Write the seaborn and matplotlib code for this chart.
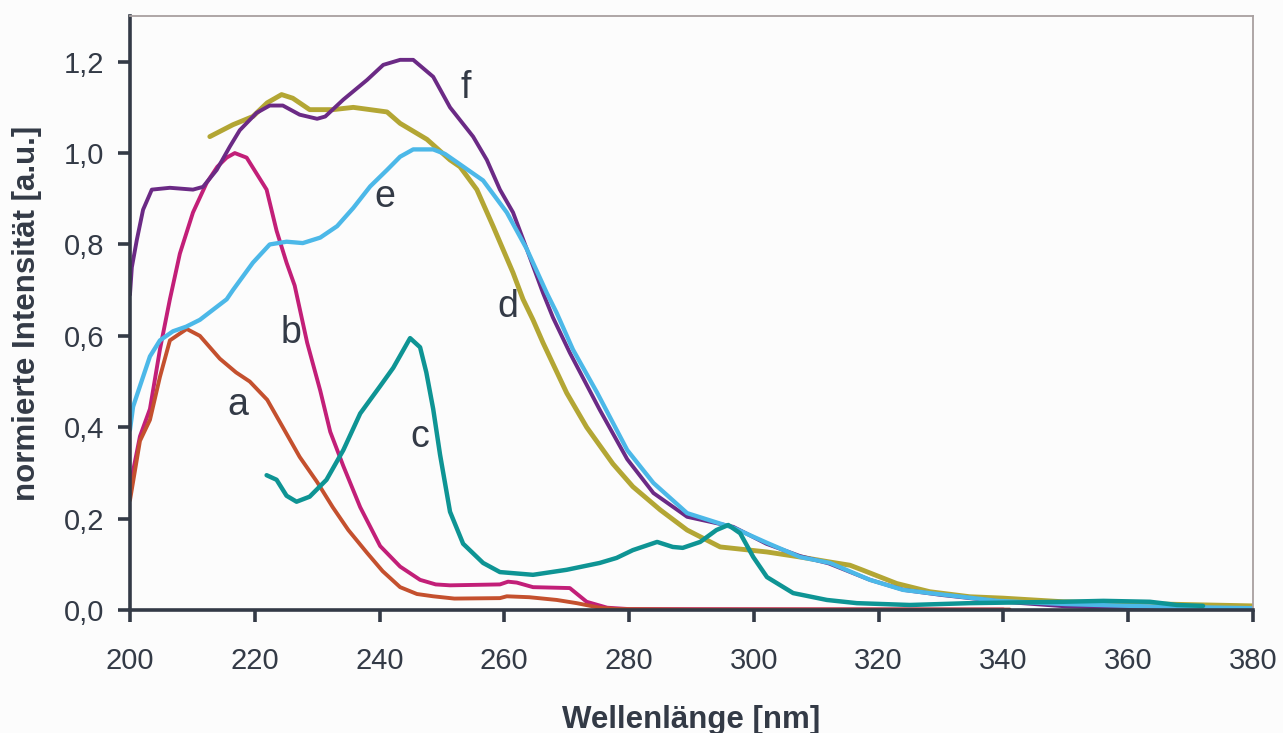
import matplotlib
matplotlib.use("Agg")
import matplotlib.pyplot as plt
import seaborn as sns
import pandas as pd

# Absorption spectra (normalised), wavelength in nm
a_x = [200, 201.6, 203.2, 204.8, 206.4, 208, 209.1, 211.2, 214.4, 217, 219.2, 222, 224.5, 227.2,
       230, 232.5, 235, 238, 240.5, 243.3, 246, 248.6, 252, 259.3, 260.4, 264, 268.4, 271.6,
       275.3, 278, 290, 341]
a_y = [0.24, 0.37, 0.416, 0.51, 0.59, 0.605, 0.615, 0.60, 0.55, 0.52, 0.50, 0.46, 0.40, 0.335,
       0.28, 0.225, 0.175, 0.125, 0.085, 0.05, 0.035, 0.03, 0.025, 0.026, 0.03, 0.028, 0.022, 0.015,
       0.005, 0.002, 0.001, 0.001]

b_x = [200, 201.6, 203.2, 204.8, 206.4, 208, 210.1, 212.3, 214, 215.5, 216.8, 218.7, 220.3, 221.9,
       223.5, 225.1, 226.4, 227.2, 228.4, 230.5, 232.1, 234.2, 236.9, 240.1, 243.3, 246.5, 249,
       251.3, 259.3, 260.6, 262, 264.6, 270.5, 273.2, 276.5, 280, 340]
b_y = [0.27, 0.38, 0.44, 0.57, 0.68, 0.78, 0.87, 0.935, 0.97, 0.99, 1.0, 0.99, 0.955, 0.92,
       0.83, 0.76, 0.71, 0.66, 0.585, 0.48, 0.39, 0.315, 0.225, 0.14, 0.095, 0.066, 0.056,
       0.054, 0.056, 0.062, 0.06, 0.05, 0.048, 0.018, 0.005, 0.002, 0.001]

c_x = [221.9, 223.5, 225.1, 226.7, 228.8, 231.5, 234.2, 236.9, 240.1, 242.2, 244.9, 246.5, 247.5,
       248.6, 249.7, 251.3, 253.4, 256.6, 259.3, 264.6, 270, 275.3, 278, 280.6, 284.5, 287, 288.6,
       291.4, 294, 295.9, 297.8, 299.9, 302.1, 306.3, 311.7, 316.5, 325, 334.6, 349.6, 356, 363.5,
       367.8, 372]
c_y = [0.295, 0.285, 0.25, 0.237, 0.248, 0.285, 0.35, 0.43, 0.49, 0.53, 0.595, 0.575, 0.52,
       0.44, 0.34, 0.215, 0.145, 0.103, 0.083, 0.077, 0.088, 0.103, 0.114, 0.131, 0.149, 0.138, 0.136,
       0.149, 0.175, 0.186, 0.168, 0.116, 0.072, 0.037, 0.022, 0.015, 0.011, 0.015, 0.018, 0.02, 0.018,
       0.011, 0.009]

d_x = [212.8, 216.5, 219.7, 222, 224.3, 226.1, 228.8, 232.5, 235.8, 241.2, 243.3, 247.6, 251.3,
       252.9, 255.6, 258.2, 261.4, 263, 264.6, 266.2, 270, 273.2, 277.4, 280.6, 285, 289.3, 294.6,
       302.1, 307.4, 312.2, 315.4, 317.5, 322.9, 328.2, 334.6, 339.9, 349.6, 365.6, 372.6, 380]
d_y = [1.036, 1.062, 1.08, 1.11, 1.128, 1.12, 1.095, 1.095, 1.10, 1.09, 1.065, 1.03, 0.985,
       0.97, 0.92, 0.84, 0.738, 0.68, 0.635, 0.585, 0.475, 0.40, 0.32, 0.27, 0.219, 0.175, 0.138,
       0.127, 0.116, 0.105, 0.098, 0.087, 0.058, 0.04, 0.029, 0.026, 0.018, 0.013, 0.011, 0.009]

e_x = [200, 200.5, 201.6, 203.2, 204.8, 206.9, 209, 211.2, 213.3, 215.5, 216.5, 219.7, 222.4,
       225.1, 227.7, 230.5, 233.2, 235.8, 238.5, 241.2, 243.3, 245.4, 248.6, 250.5, 252.4, 256.6,
       260.4, 263.6, 266.8, 268.4, 271, 274.9, 279.7, 283.9, 289.3, 296.7, 302.1, 307.4, 312.2,
       318.6, 323.9, 328.2, 339, 350, 365.6, 380]
e_y = [0.394, 0.445, 0.49, 0.555, 0.59, 0.61, 0.62, 0.635, 0.657, 0.68, 0.70, 0.76, 0.80,
       0.806, 0.803, 0.815, 0.84, 0.88, 0.927, 0.963, 0.992, 1.008, 1.008, 0.998, 0.98, 0.94,
       0.87, 0.79, 0.694, 0.65, 0.57, 0.475, 0.35, 0.278, 0.212, 0.18, 0.147, 0.116, 0.103,
       0.066, 0.044, 0.037, 0.02, 0.013, 0.007, 0.004]

f_x = [200, 200.3, 201.1, 202.1, 203.5, 206.4, 210.1, 211.7, 213.9, 216, 217.6, 220.3, 222.4,
       224.5, 227.2, 230, 231.3, 234.2, 238, 240.6, 243.3, 245.4, 248.6, 251.3, 255, 257.2, 259.3,
       261.4, 263.6, 266.2, 267.8, 270.5, 275.3, 279.7, 283.9, 289.3, 296.7, 302, 307.4, 312,
       318.6, 324, 330, 340, 350, 360, 368]
f_y = [0.69, 0.75, 0.81, 0.876, 0.92, 0.924, 0.92, 0.926, 0.963, 1.014, 1.05, 1.088, 1.104,
       1.104, 1.084, 1.075, 1.08, 1.117, 1.16, 1.193, 1.204, 1.204, 1.167, 1.10, 1.036, 0.985, 0.92,
       0.87, 0.79, 0.694, 0.64, 0.563, 0.438, 0.33, 0.256, 0.204, 0.182, 0.145, 0.118, 0.102,
       0.066, 0.044, 0.033, 0.018, 0.008, 0.004, 0.003]

# Curve letters and where they are written (wavelength, intensity)
label_text = ["a", "b", "c", "d", "e", "f"]
label_x = [217.3, 225.8, 246.5, 260.6, 240.9, 253.9]
label_y = [0.449, 0.607, 0.379, 0.663, 0.904, 1.143]

x_ticks = [200, 220, 240, 260, 280, 300, 320, 340, 360, 380]
y_ticks = [0.0, 0.2, 0.4, 0.6, 0.8, 1.0, 1.2]

series = {
    "a": (a_x, a_y, "#c4502e", 2.8),
    "b": (b_x, b_y, "#c21f78", 2.8),
    "c": (c_x, c_y, "#0e9494", 3.2),
    "d": (d_x, d_y, "#b3a634", 3.5),
    "e": (e_x, e_y, "#4cb8e8", 3.1),
    "f": (f_x, f_y, "#6b2a85", 2.8),
}
draw_order = ["b", "a", "d", "f", "e", "c"]

sns.set_theme(style="white")
plt.rcParams["font.family"] = ["Liberation Sans", "DejaVu Sans"]
text_color = "#333a46"

fig = plt.figure(figsize=(12.83, 7.33), dpi=100)
fig.patch.set_facecolor("#fcfcfc")
ax = fig.add_axes([0.1013, 0.1678, 0.8753, 0.8104])
ax.set_facecolor("#fcfcfc")

for key in draw_order:
    xs, ys, col, lw = series[key]
    df = pd.DataFrame({"nm": xs, "val": ys})
    sns.lineplot(data=df, x="nm", y="val", color=col, linewidth=lw, ax=ax,
                 estimator=None, sort=False, solid_joinstyle="round", solid_capstyle="round")

for t, lx, ly in zip(label_text, label_x, label_y):
    ax.text(lx, ly, t, fontsize=27, color=text_color, ha="center", va="center")

ax.set_xlim(200, 380)
ax.set_ylim(0, 1.3)
ax.set_xticks(x_ticks)
ax.set_xticklabels([str(v) for v in x_ticks])
ax.set_yticks(y_ticks)
ax.set_yticklabels([f"{v:.1f}".replace(".", ",") for v in y_ticks])

ax.tick_params(axis="both", which="major", direction="out", length=8.5, width=2.6,
               color=text_color, labelcolor=text_color, labelsize=21, bottom=True, left=True)
ax.tick_params(axis="x", pad=18)
ax.tick_params(axis="y", pad=10)

for side in ["left", "bottom"]:
    ax.spines[side].set_color(text_color)
    ax.spines[side].set_linewidth(2.6)
for side in ["top", "right"]:
    ax.spines[side].set_visible(True)
    ax.spines[side].set_color("#a8a0a0")
    ax.spines[side].set_linewidth(1.3)

ax.set_xlabel("Wellenlänge [nm]", fontsize=22.5, fontweight="bold", color=text_color, labelpad=22)
ax.set_ylabel("normierte Intensität [a.u.]", fontsize=22.5, fontweight="bold", color=text_color, labelpad=16)

fig.savefig("out.png", dpi=100, facecolor=fig.get_facecolor())
